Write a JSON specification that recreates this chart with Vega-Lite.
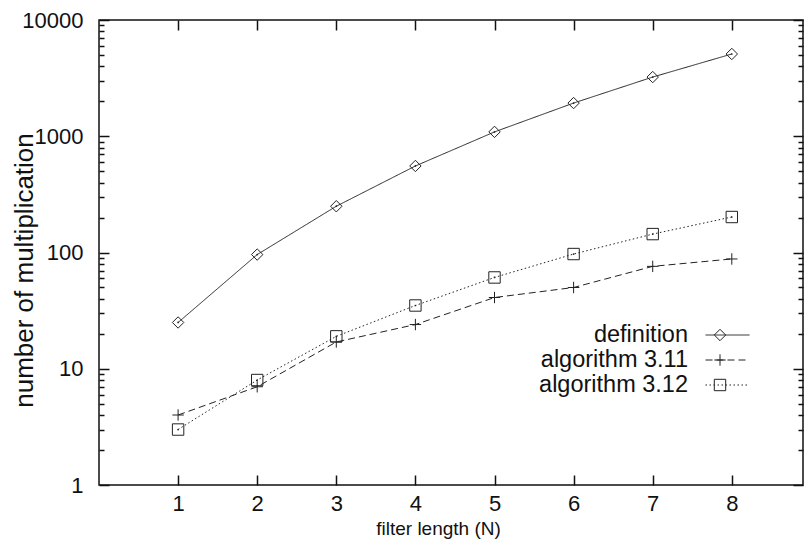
{
  "$schema": "https://vega.github.io/schema/vega-lite/v6.json",
  "width": 704,
  "height": 465,
  "autosize": {"type": "none"},
  "padding": {"left": 99, "top": 20, "right": 5, "bottom": 66},
  "background": "white",
  "config": {
    "view": {"stroke": "#111", "strokeWidth": 1.5},
    "axis": {"grid": false, "domain": false, "labelFont": "Liberation Sans", "titleFont": "Liberation Sans", "labelColor": "#111", "titleColor": "#111", "tickColor": "#111", "titleFontWeight": "normal"}
  },
  "data": {
    "values": [
      {"N": 1, "mult": 25, "series": "definition"},
      {"N": 2, "mult": 96, "series": "definition"},
      {"N": 3, "mult": 250, "series": "definition"},
      {"N": 4, "mult": 555, "series": "definition"},
      {"N": 5, "mult": 1090, "series": "definition"},
      {"N": 6, "mult": 1930, "series": "definition"},
      {"N": 7, "mult": 3230, "series": "definition"},
      {"N": 8, "mult": 5100, "series": "definition"},
      {"N": 1, "mult": 4, "series": "algorithm 3.11"},
      {"N": 2, "mult": 7, "series": "algorithm 3.11"},
      {"N": 3, "mult": 17, "series": "algorithm 3.11"},
      {"N": 4, "mult": 24, "series": "algorithm 3.11"},
      {"N": 5, "mult": 41, "series": "algorithm 3.11"},
      {"N": 6, "mult": 50, "series": "algorithm 3.11"},
      {"N": 7, "mult": 76, "series": "algorithm 3.11"},
      {"N": 8, "mult": 88, "series": "algorithm 3.11"},
      {"N": 1, "mult": 3, "series": "algorithm 3.12"},
      {"N": 2, "mult": 8, "series": "algorithm 3.12"},
      {"N": 3, "mult": 19, "series": "algorithm 3.12"},
      {"N": 4, "mult": 35, "series": "algorithm 3.12"},
      {"N": 5, "mult": 61, "series": "algorithm 3.12"},
      {"N": 6, "mult": 97, "series": "algorithm 3.12"},
      {"N": 7, "mult": 144, "series": "algorithm 3.12"},
      {"N": 8, "mult": 202, "series": "algorithm 3.12"}
    ]
  },
  "layer": [
    {
      "mark": {"type": "line", "strokeWidth": 1, "color": "#222"},
      "encoding": {
        "x": {
          "field": "N", "type": "quantitative",
          "scale": {"domain": [0, 8.9], "nice": false, "zero": false},
          "axis": {
            "orient": "bottom", "values": [1, 2, 3, 4, 5, 6, 7, 8], "format": "d",
            "labelFontSize": 22, "labelPadding": 18, "tickSize": -10, "tickWidth": 1.5,
            "labelFlush": false, "labelOverlap": false,
            "title": "filter length (N)", "titleFontSize": 19, "titleX": 339, "titleY": 49,
            "titleAlign": "center", "titleBaseline": "alphabetic"
          }
        },
        "y": {
          "field": "mult", "type": "quantitative",
          "scale": {"type": "log", "domain": [1, 10000], "nice": false},
          "axis": {
            "orient": "left",
            "values": [1, 2, 3, 4, 5, 6, 7, 8, 9, 10, 20, 30, 40, 50, 60, 70, 80, 90, 100, 200, 300, 400, 500, 600, 700, 800, 900, 1000, 2000, 3000, 4000, 5000, 6000, 7000, 8000, 9000, 10000],
            "labelExpr": "abs(log(datum.value)/LN10 - round(log(datum.value)/LN10)) < 0.001 ? format(datum.value, 'd') : ''",
            "labelFontSize": 22, "labelPadding": 26, "labelOverlap": false, "labelFlush": false,
            "tickSize": {"condition": {"test": "abs(log(datum.value)/LN10 - round(log(datum.value)/LN10)) < 0.001", "value": -10}, "value": -5},
            "tickWidth": 1.5,
            "title": "number of multiplication", "titleFontSize": 26, "titleX": -67, "titleY": 250,
            "titleAngle": -90, "titleAlign": "center", "titleBaseline": "alphabetic"
          }
        },
        "strokeDash": {
          "field": "series", "type": "nominal",
          "sort": ["definition", "algorithm 3.11", "algorithm 3.12"],
          "scale": {"range": [[1, 0], [7, 4], [1.5, 2.5]]},
          "legend": {
            "orient": "none", "legendX": 616.75, "legendY": 303.25, "title": null,
            "symbolType": "M-4,0H4", "symbolSize": 121, "symbolStrokeWidth": 1, "symbolStrokeColor": "#222",
            "labelAlign": "right", "labelOffset": -51.25, "labelFontSize": 23.5, "labelFont": "Liberation Sans",
            "labelColor": "#111", "labelLimit": 400, "rowPadding": 0, "padding": 0
          }
        }
      }
    },
    {
      "mark": {"type": "point", "filled": false, "size": 130, "strokeWidth": 1, "color": "#222", "opacity": 1},
      "encoding": {
        "x": {
          "field": "N", "type": "quantitative",
          "scale": {"domain": [0, 8.9], "nice": false, "zero": false},
          "axis": {"orient": "top", "values": [1, 2, 3, 4, 5, 6, 7, 8], "labels": false, "title": null, "tickSize": -10, "tickWidth": 1.5}
        },
        "y": {
          "field": "mult", "type": "quantitative",
          "scale": {"type": "log", "domain": [1, 10000], "nice": false},
          "axis": {
            "orient": "right", "labels": false, "title": null,
            "values": [1, 2, 3, 4, 5, 6, 7, 8, 9, 10, 20, 30, 40, 50, 60, 70, 80, 90, 100, 200, 300, 400, 500, 600, 700, 800, 900, 1000, 2000, 3000, 4000, 5000, 6000, 7000, 8000, 9000, 10000],
            "tickSize": {"condition": {"test": "abs(log(datum.value)/LN10 - round(log(datum.value)/LN10)) < 0.001", "value": -10}, "value": -5},
            "tickWidth": 1.5
          }
        },
        "shape": {
          "field": "series", "type": "nominal",
          "scale": {"domain": ["definition", "algorithm 3.11", "algorithm 3.12"], "range": ["diamond", "M-1,0H1M0,-1V1", "square"]},
          "legend": {
            "orient": "none", "legendX": 609.25, "legendY": 303.25, "title": null,
            "symbolSize": 130, "symbolStrokeWidth": 1, "symbolStrokeColor": "#222", "symbolFillColor": "white",
            "labelExpr": "''", "labelFontSize": 23.5, "labelFont": "Liberation Sans",
            "rowPadding": 0, "padding": 0
          }
        }
      }
    },
    {
      "transform": [{"filter": "datum.series != 'algorithm 3.11'"}],
      "mark": {"type": "circle", "size": 3, "color": "#222", "opacity": 1},
      "encoding": {
        "x": {"field": "N", "type": "quantitative", "axis": null},
        "y": {"field": "mult", "type": "quantitative", "axis": null}
      }
    }
  ],
  "resolve": {"axis": {"x": "independent", "y": "independent"}}
}
